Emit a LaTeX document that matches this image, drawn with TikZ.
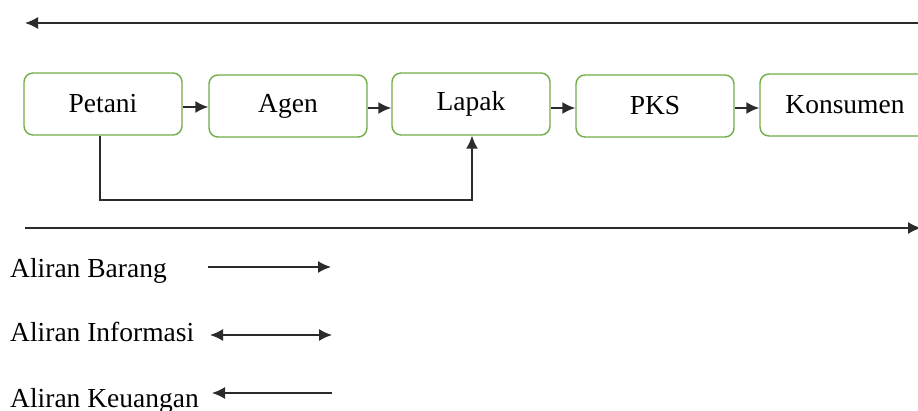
\documentclass[tikz,border=0pt]{standalone}
\usepackage{fontspec}
\setmainfont{Liberation Serif}
\usetikzlibrary{arrows.meta}
\begin{document}
\begin{tikzpicture}[x=1pt,y=-1pt,
  flowbox/.style={draw=boxgreen, line width=1.4pt, rounded corners=9pt, minimum width=158pt, minimum height=62pt, inner sep=0pt, font=\fontsize{27.5}{30}\selectfont},
  conn/.style={draw=linegray, line width=1.6pt, -{Latex[length=13pt,width=12pt]}},
  legtext/.style={anchor=base west, inner sep=0pt, font=\fontsize{27.5}{30}\selectfont}]
\definecolor{boxgreen}{HTML}{70AD47}
\definecolor{linegray}{HTML}{2B2B2B}
\useasboundingbox (0,0) rectangle (918,411);
\clip (0,0) rectangle (918,411);
\node[flowbox] (petani) at (103,104) {Petani};
\node[flowbox] (agen) at (288,106) {Agen};
\node[flowbox] (lapak) at (471,104) {Lapak};
\node[flowbox] (pks) at (655,106) {PKS};
\node[flowbox, minimum width=170pt] (kons) at (845,105) {Konsumen};
\draw[conn] (petani.east |- 0,107) -- (agen.west |- 0,107);
\draw[conn] (agen.east |- 0,108) -- (lapak.west |- 0,108);
\draw[conn] (lapak.east |- 0,108) -- (pks.west |- 0,108);
\draw[conn] (pks.east |- 0,108) -- (kons.west |- 0,108);
\draw[conn] (petani.south -| 100,0) -- (100,200) -- (472,200) -- (lapak.south -| 472,0);
\coordinate (topR) at (925,23);
\coordinate (topL) at (25,23);
\draw[conn] (topR) -- (topL);
\coordinate (botL) at (25,228);
\coordinate (botR) at (921,228);
\draw[conn] (botL) -- (botR);
\node[legtext] (lb) at (10,278) {Aliran Barang};
\node[legtext] (li) at (10,342) {Aliran Informasi};
\node[legtext] (lk) at (10,407) {Aliran Keuangan};
\coordinate (b1) at (208,267); \coordinate (b2) at (331,267);
\coordinate (i1) at (210,335); \coordinate (i2) at (332,335);
\coordinate (k1) at (212,393); \coordinate (k2) at (332,393);
\draw[conn] (b1) -- (b2);
\draw[conn, {Latex[length=13pt,width=12pt]}-{Latex[length=13pt,width=12pt]}] (i1) -- (i2);
\draw[conn] (k2) -- (k1);
\end{tikzpicture}
\end{document}
